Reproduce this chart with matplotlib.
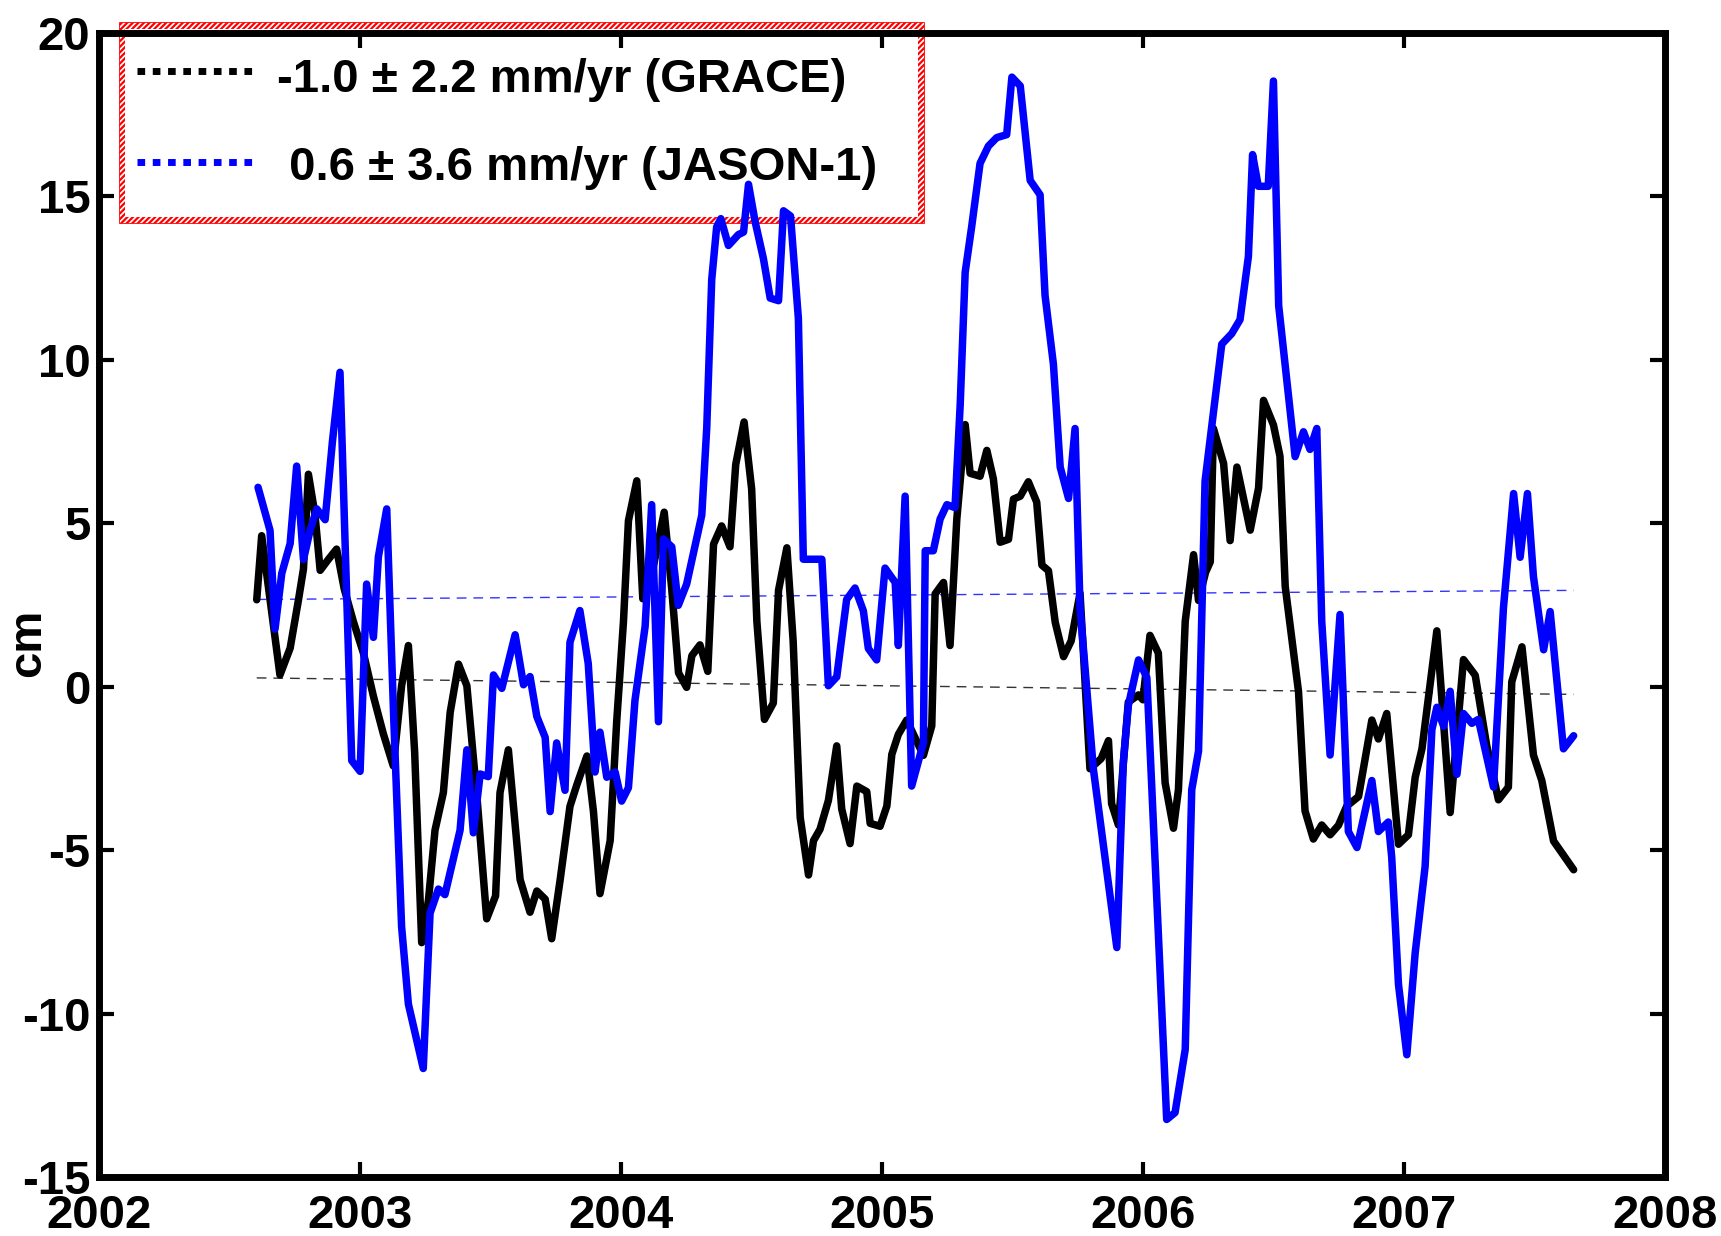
import matplotlib
matplotlib.use("Agg")
import matplotlib.pyplot as plt
from matplotlib.lines import Line2D
from matplotlib.patches import Rectangle
import numpy as np

plt.rcParams['font.family'] = ['Liberation Sans', 'DejaVu Sans']
plt.rcParams['font.weight'] = 'bold'
plt.rcParams['axes.unicode_minus'] = False
plt.rcParams['hatch.color'] = 'red'
plt.rcParams['hatch.linewidth'] = 1.6

# GRACE series (cm), decimal years
grace_t = [2002.605, 2002.624, 2002.694, 2002.733, 2002.765, 2002.784, 2002.803, 2002.828,
           2002.848, 2002.88, 2002.911, 2002.94, 2002.975, 2003.014, 2003.052, 2003.09,
           2003.128, 2003.16, 2003.186, 2003.21, 2003.237, 2003.263, 2003.288, 2003.32,
           2003.346, 2003.378, 2003.41, 2003.45, 2003.486, 2003.52, 2003.537, 2003.569,
           2003.614, 2003.652, 2003.678, 2003.71, 2003.735, 2003.767, 2003.805, 2003.831,
           2003.87, 2003.895, 2003.92, 2003.959, 2003.984, 2004.01, 2004.029, 2004.061,
           2004.084, 2004.12, 2004.166, 2004.195, 2004.221, 2004.252, 2004.272, 2004.303,
           2004.333, 2004.355, 2004.386, 2004.418, 2004.44, 2004.472, 2004.501, 2004.521,
           2004.55, 2004.584, 2004.604, 2004.636, 2004.66, 2004.687, 2004.719, 2004.738,
           2004.763, 2004.795, 2004.827, 2004.846, 2004.878, 2004.904, 2004.942, 2004.955,
           2004.993, 2005.019, 2005.038, 2005.063, 2005.095, 2005.159, 2005.191, 2005.204,
           2005.236, 2005.261, 2005.287, 2005.319, 2005.338, 2005.376, 2005.402, 2005.427,
           2005.453, 2005.485, 2005.504, 2005.53, 2005.561, 2005.593, 2005.613, 2005.638,
           2005.664, 2005.696, 2005.725, 2005.759, 2005.797, 2005.84, 2005.868, 2005.88,
           2005.906, 2005.944, 2005.983, 2006.0, 2006.027, 2006.059, 2006.085, 2006.117,
           2006.136, 2006.162, 2006.194, 2006.213, 2006.24, 2006.258, 2006.27, 2006.309,
           2006.334, 2006.36, 2006.411, 2006.443, 2006.462, 2006.5, 2006.525, 2006.545,
           2006.596, 2006.621, 2006.653, 2006.685, 2006.717, 2006.749, 2006.781, 2006.826,
           2006.877, 2006.902, 2006.934, 2006.979, 2007.017, 2007.043, 2007.069, 2007.126,
           2007.177, 2007.228, 2007.273, 2007.317, 2007.362, 2007.4, 2007.413, 2007.452,
           2007.496, 2007.528, 2007.573, 2007.65]
grace_cm = [2.66, 4.62, 0.36, 1.18, 2.66, 3.6, 6.5, 5.28,
            3.56, 3.9, 4.21, 3.0, 2.0, 1.02, -0.29, -1.44,
            -2.42, 0.03, 1.26, -2.0, -7.83, -6.52, -4.39, -3.24,
            -0.79, 0.69, 0.03, -3.5, -7.1, -6.4, -3.24, -1.93,
            -5.9, -6.9, -6.25, -6.5, -7.71, -5.93, -3.66, -3.01,
            -2.12, -3.82, -6.33, -4.71, -1.07, 2.0, 5.08, 6.3,
            2.69, 3.5, 5.34, 2.98, 0.42, -0.02, 0.95, 1.28,
            0.47, 4.36, 4.92, 4.28, 6.8, 8.1, 6.05, 2.0,
            -1.0, -0.5, 2.95, 4.25, 1.4, -4.0, -5.76, -4.71,
            -4.36, -3.48, -1.81, -3.74, -4.8, -3.04, -3.21, -4.18,
            -4.27, -3.65, -2.07, -1.46, -1.02, -2.1, -1.2, 2.84,
            3.19, 1.26, 5.13, 8.02, 6.53, 6.44, 7.23, 6.36,
            4.42, 4.51, 5.74, 5.83, 6.27, 5.65, 3.72, 3.55,
            1.97, 0.92, 1.4, 2.86, -2.51, -2.2, -1.65, -3.58,
            -4.23, -0.47, -0.25, -0.4, 1.57, 1.03, -2.94, -4.33,
            -3.15, 2.0, 4.04, 2.64, 3.5, 3.82, 7.9, 6.83,
            4.47, 6.72, 4.79, 6.08, 8.76, 8.01, 7.05, 3.07,
            -0.15, -3.8, -4.66, -4.23, -4.53, -4.24, -3.65, -3.36,
            -1.02, -1.6, -0.82, -4.82, -4.53, -2.77, -1.9, 1.71,
            -3.85, 0.83, 0.35, -1.8, -3.46, -3.07, 0.15, 1.22,
            -2.09, -2.87, -4.72, -5.6]

# JASON-1 series (cm)
jason_t = [2002.61, 2002.656, 2002.675, 2002.701, 2002.733, 2002.758, 2002.784, 2002.81,
           2002.835, 2002.867, 2002.895, 2002.924, 2002.945, 2002.969, 2003.001, 2003.026,
           2003.052, 2003.071, 2003.103, 2003.13, 2003.16, 2003.186, 2003.243, 2003.269,
           2003.301, 2003.326, 2003.384, 2003.41, 2003.435, 2003.461, 2003.492, 2003.512,
           2003.544, 2003.595, 2003.627, 2003.652, 2003.678, 2003.71, 2003.729, 2003.754,
           2003.786, 2003.805, 2003.843, 2003.875, 2003.901, 2003.92, 2003.946, 2003.978,
           2004.003, 2004.029, 2004.054, 2004.093, 2004.118, 2004.144, 2004.163, 2004.195,
           2004.22, 2004.252, 2004.31, 2004.329, 2004.348, 2004.367, 2004.383, 2004.412,
           2004.45, 2004.47, 2004.489, 2004.514, 2004.546, 2004.572, 2004.604, 2004.623,
           2004.65, 2004.68, 2004.699, 2004.77, 2004.795, 2004.827, 2004.865, 2004.897,
           2004.929, 2004.948, 2004.98, 2005.012, 2005.051, 2005.063, 2005.089, 2005.114,
           2005.159, 2005.166, 2005.197, 2005.223, 2005.249, 2005.28, 2005.3, 2005.319,
           2005.344, 2005.376, 2005.408, 2005.44, 2005.478, 2005.498, 2005.53, 2005.568,
           2005.606, 2005.625, 2005.657, 2005.683, 2005.715, 2005.74, 2005.759, 2005.81,
           2005.9, 2005.925, 2005.944, 2005.983, 2006.015, 2006.091, 2006.123, 2006.162,
           2006.187, 2006.213, 2006.238, 2006.302, 2006.34, 2006.372, 2006.404, 2006.42,
           2006.442, 2006.48, 2006.5, 2006.52, 2006.583, 2006.615, 2006.64, 2006.666,
           2006.685, 2006.717, 2006.755, 2006.787, 2006.82, 2006.877, 2006.902, 2006.94,
           2006.953, 2006.979, 2007.011, 2007.043, 2007.081, 2007.107, 2007.126, 2007.152,
           2007.177, 2007.203, 2007.228, 2007.26, 2007.285, 2007.343, 2007.381, 2007.42,
           2007.445, 2007.473, 2007.496, 2007.535, 2007.56, 2007.611, 2007.65]
jason_cm = [6.1, 4.78, 1.76, 3.47, 4.38, 6.75, 3.89, 4.8,
            5.44, 5.11, 7.5, 9.62, 4.0, -2.26, -2.59, 3.14,
            1.51, 3.97, 5.44, -1.0, -7.34, -9.71, -11.68, -6.93,
            -6.19, -6.36, -4.39, -1.93, -4.47, -2.67, -2.75, 0.36,
            -0.05, 1.59, 0.06, 0.31, -0.91, -1.55, -3.82, -1.72,
            -3.17, 1.36, 2.33, 0.71, -2.61, -1.39, -2.77, -2.61,
            -3.5, -3.09, -0.42, 1.85, 5.57, -1.07, 4.52, 4.28,
            2.49, 3.14, 5.25, 7.92, 12.45, 14.07, 14.32, 13.5,
            13.83, 13.91, 15.37, 14.24, 13.1, 11.89, 11.81, 14.56,
            14.4, 11.27, 3.9, 3.9, 0.03, 0.3, 2.67, 3.02,
            2.32, 1.17, 0.82, 3.63, 3.19, 1.26, 5.83, -3.04,
            -1.72, 4.16, 4.16, 5.13, 5.57, 5.48, 8.64, 12.68,
            14.08, 16.01, 16.54, 16.8, 16.89, 18.65, 18.38, 15.49,
            15.05, 11.97, 9.87, 6.72, 5.76, 7.9, 2.43, -2.51,
            -7.98, -2.29, -0.58, 0.82, 0.28, -13.24, -13.03, -11.1,
            -3.15, -1.97, 6.29, 10.48, 10.8, 11.23, 13.16, 16.28,
            15.31, 15.31, 18.53, 11.66, 7.04, 7.8, 7.26, 7.9,
            2.0, -2.09, 2.21, -4.43, -4.92, -2.87, -4.43, -4.14,
            -5.21, -9.11, -11.26, -8.14, -5.5, -1.31, -0.63, -1.21,
            -0.14, -2.68, -0.82, -1.12, -1.0, -3.07, 2.4, 5.91,
            3.96, 5.91, 3.37, 1.13, 2.3, -1.9, -1.5]

# linear trends: value at start (cm) and slope (cm/yr)
trend_span = [2002.605, 2007.65]
grace_trend = (0.27, -0.10)
jason_trend = (2.67, 0.055)

labels = ['-1.0 \u00b1 2.2 mm/yr (GRACE)', ' 0.6 \u00b1 3.6 mm/yr (JASON-1)']
year_ticks = [2002, 2003, 2004, 2005, 2006, 2007, 2008]
cm_ticks = [-15, -10, -5, 0, 5, 10, 15, 20]

W, H = 1721, 1236
fig = plt.figure(figsize=(W / 100, H / 100), dpi=100)
ax = fig.add_axes([98.8 / W, 1 - 1177 / H, (1665 - 98.8) / W, (1177 - 33) / H])
ax.patch.set_alpha(0)

ax.plot(grace_t, grace_cm, color='black', lw=5.4, zorder=3,
        solid_joinstyle='round', solid_capstyle='round')
ax.plot(jason_t, jason_cm, color='#0000ff', lw=5.4, zorder=4,
        solid_joinstyle='round', solid_capstyle='round')

ts = np.array(trend_span)
ax.plot(ts, grace_trend[0] + grace_trend[1] * (ts - ts[0]), color='#333333',
        lw=1, dashes=(7, 5), zorder=2)
ax.plot(ts, jason_trend[0] + jason_trend[1] * (ts - ts[0]), color='#3333ff',
        lw=1, dashes=(7, 5), zorder=2)

ax.set_xlim(2002, 2008)
ax.set_ylim(-15, 20)
ax.set_xticks(year_ticks)
ax.set_yticks(cm_ticks)
ax.tick_params(direction='in', length=11, width=3, top=True, right=True,
               labelsize=34)
ax.tick_params(axis='x', pad=12)
ax.tick_params(axis='y', pad=6)
for lab in ax.get_xticklabels() + ax.get_yticklabels():
    lab.set_fontweight('bold')
for sp in ax.spines.values():
    sp.set_linewidth(5)
ax.set_ylabel('cm', fontsize=34, fontweight='bold')
ax.yaxis.set_label_coords(-0.031, 0.467)

# legend box with red hatched border, drawn underneath the data
bx0, bx1 = 118.5 / W, 924 / W
by0, by1 = 1 - 223 / H, 1 - 22 / H
bw = 6.5
outer = Rectangle((bx0, by0), bx1 - bx0, by1 - by0, transform=fig.transFigure,
                  facecolor='white', edgecolor='red', hatch='//////', lw=0.6, zorder=-2)
inner = Rectangle((bx0 + bw / W, by0 + bw / H), bx1 - bx0 - 2 * bw / W,
                  by1 - by0 - 2 * bw / H, transform=fig.transFigure,
                  facecolor='white', edgecolor='none', zorder=-1.5)
fig.add_artist(outer)
fig.add_artist(inner)

handle_y = [71, 162]
text_y = [80, 168]
text_x = [277, 276]
colors = ['black', '#0000ff']
for hy, ty, tx, c, lab in zip(handle_y, text_y, text_x, colors, labels):
    fig.add_artist(Line2D([137 / W, 255 / W], [1 - hy / H, 1 - hy / H],
                          transform=fig.transFigure, color=c, lw=5,
                          dashes=(1.1, 1.1), zorder=-1))
    fig.text(tx / W, 1 - ty / H, lab, fontsize=34, fontweight='bold',
             va='center', ha='left', zorder=-1)

fig.savefig('out.png', dpi=100)
